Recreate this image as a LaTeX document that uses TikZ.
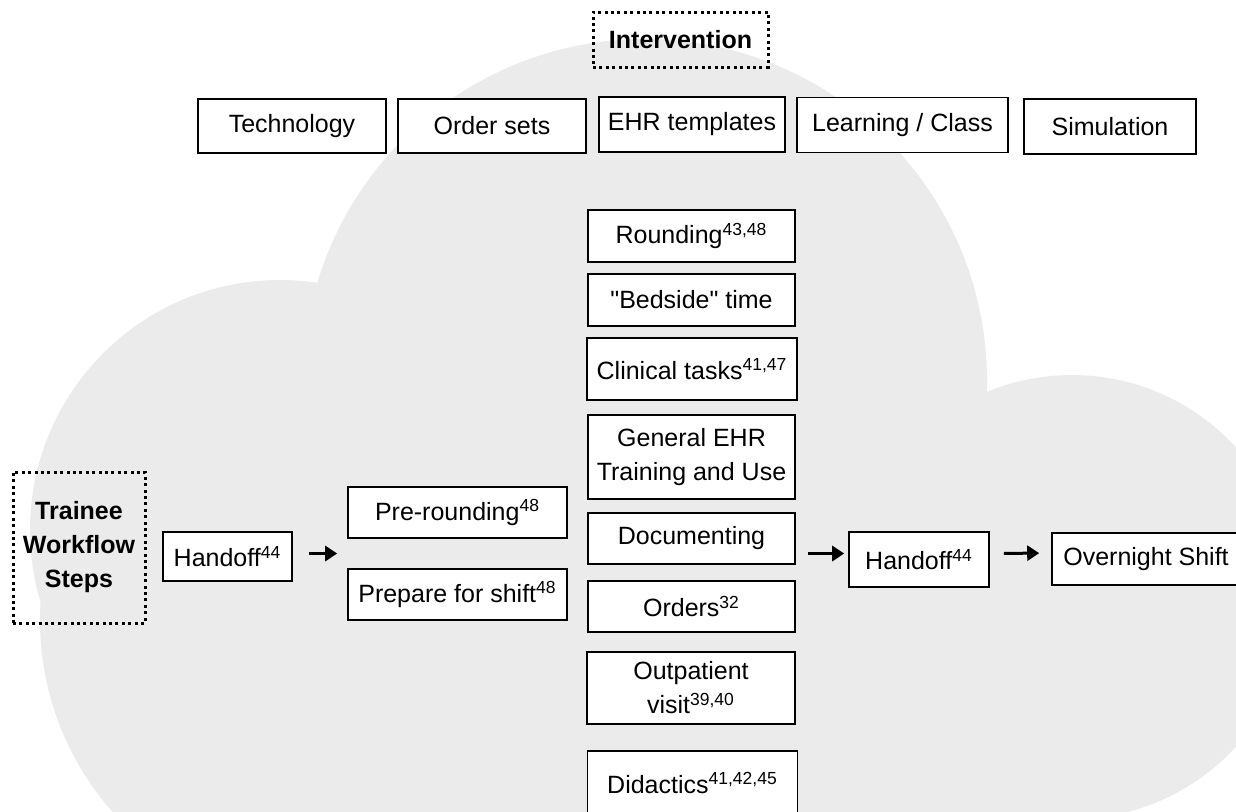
\documentclass[tikz,border=0pt]{standalone}
\usepackage{fontspec}
\setmainfont{Liberation Sans}
\usetikzlibrary{arrows.meta}

\definecolor{cloudgray}{RGB}{235,235,235}
\newcommand{\refs}[1]{\textsuperscript{#1}}

\tikzset{
  box/.style={draw, line width=0.8pt, fill=white, align=center, inner sep=0pt,
    font=\fontsize{12.5pt}{17pt}\selectfont},
  dotbox/.style={draw, line width=1.5pt, dash pattern=on 1.5pt off 1.7pt, align=center,
    inner sep=0pt, font=\fontsize{12.5pt}{17pt}\selectfont\bfseries},
  flow/.style={line width=1.5pt, -{Triangle[length=6pt,width=7.5pt]}}
}

\begin{document}
\begin{tikzpicture}[x=0.5pt, y=-0.5pt]

    \useasboundingbox (0,0) rectangle (1236,811);

    % Cloud in the background
    \begin{scope}
        \clip (0,0) rectangle (1236,811);
        \fill[cloudgray] (645,381) circle[radius=342];  % middle
        \fill[cloudgray] (280,530) circle[radius=250];  % left, top
        \fill[cloudgray] (330,620) circle[radius=290];  % left, bottom
        \fill[cloudgray] (1072,597) circle[radius=222]; % right
        \fill[cloudgray] (250,400) rectangle (1100,820);
    \end{scope}

    % Intervention
    \node[dotbox, minimum width=87.5pt, minimum height=27.5pt] (interv) at (680.5,39.5) {Intervention};

    \node[box, minimum width=94pt, minimum height=27pt] (tech) at (292,126) {Technology};
    \node[box, minimum width=94pt, minimum height=27pt] (osets) at (492,126) {Order sets};
    \node[box, minimum width=93pt, minimum height=27.5pt] (ehrt) at (692,124.5) {EHR templates};
    \node[box, minimum width=105.5pt, minimum height=27.5pt] (learn) at (902.5,125) {Learning / Class};
    \node[box, minimum width=86pt, minimum height=27.5pt] (simu) at (1110,126.5) {Simulation};

    % Middle column
    \node[box, minimum width=103.5pt, minimum height=26pt] (round) at (691.5,236) {Rounding\refs{43,48}};
    \node[box, minimum width=103.5pt, minimum height=26pt] (bedside) at (691.5,300) {\textquotedbl Bedside\textquotedbl{} time};
    \node[box, minimum width=105pt, minimum height=31pt] (clin) at (692,369) {Clinical tasks\refs{41,47}};
    \node[box, minimum width=103.5pt, minimum height=42pt] (gen) at (691.5,457) {General EHR\\Training and Use};
    \node[box, minimum width=103.5pt, minimum height=25.5pt] (docs) at (691.5,538.5) {Documenting};
    \node[box, minimum width=103.5pt, minimum height=25.5pt] (orders) at (691.5,606.5) {Orders\refs{32}};
    \node[box, minimum width=104pt, minimum height=36pt] (outpt) at (691,688) {Outpatient\\visit\refs{39,40}};
    \node[box, minimum width=105pt, minimum height=32pt] (didac) at (692.5,783) {Didactics\refs{41,42,45}};

    % Trainee workflow
    \node[dotbox, minimum width=66pt, minimum height=75.5pt] (trainee) at (79,547.5) {Trainee\\Workflow\\Steps};
    \node[box, minimum width=64.5pt, minimum height=24.5pt] (hand1) at (227.5,556.5) {Handoff\refs{44}};
    \node[box, minimum width=109.5pt, minimum height=25.5pt] (prer) at (457.5,512.5) {Pre-rounding\refs{48}};
    \node[box, minimum width=109.5pt, minimum height=25.5pt] (prep) at (457.5,594.5) {Prepare for shift\refs{48}};
    \node[box, minimum width=70pt, minimum height=27.5pt] (hand2) at (919,559.5) {Handoff\refs{44}};
    \node[box, minimum width=94pt, minimum height=26pt] (night) at (1146,559) {Overnight Shift};

    % Arrows
    \draw[flow, shorten <=8pt, shorten >=5pt] ([yshift=1.5pt]hand1.east) -- ([yshift=1.5pt]hand1.east -| prer.west);
    \draw[flow, shorten <=6pt, shorten >=2pt] ([yshift=3pt]hand2.west -| docs.east) -- ([yshift=3pt]hand2.west);
    \draw[flow, shorten <=7pt, shorten >=6pt] ([yshift=3pt]hand2.east) -- ([yshift=3pt]night.west);

\end{tikzpicture}
\end{document}
